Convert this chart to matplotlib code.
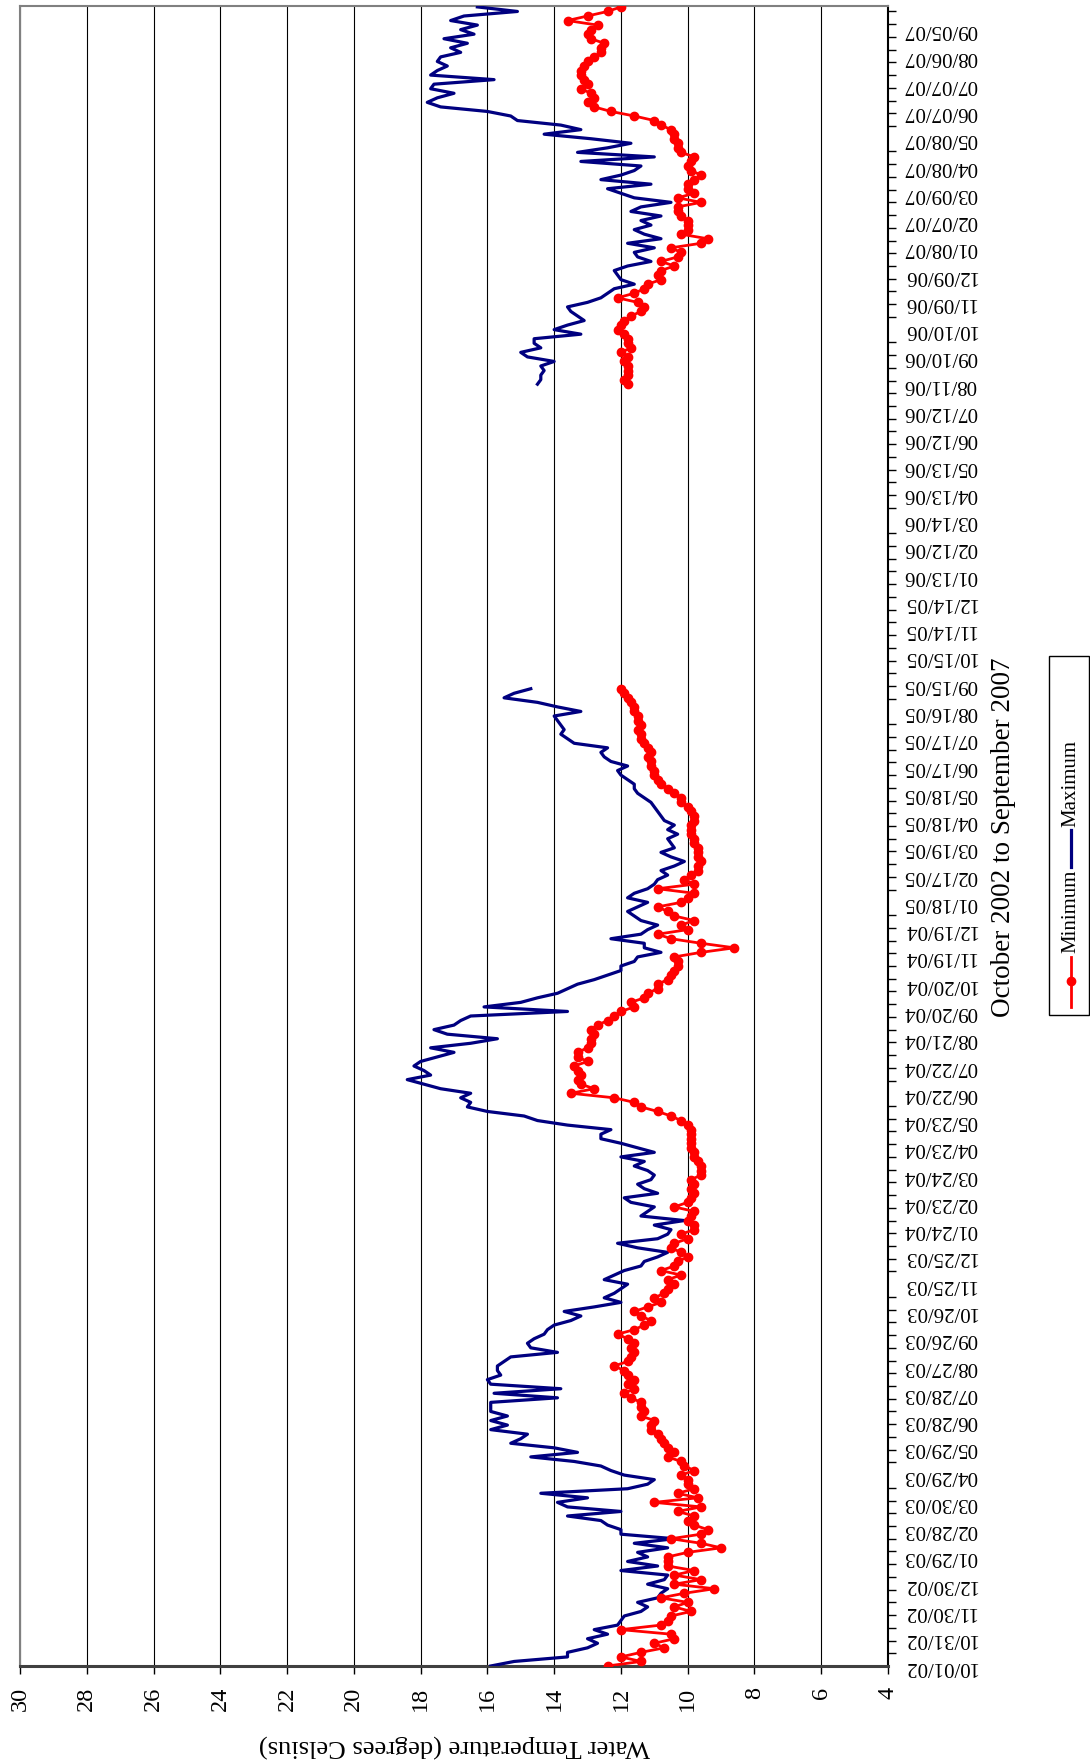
import numpy as np
import pandas as pd
import matplotlib
matplotlib.use("Agg")
import matplotlib.pyplot as plt
import matplotlib.dates as mdates
from matplotlib.lines import Line2D
from matplotlib.patches import Rectangle

plt.rcParams['font.family'] = ['Liberation Serif', 'DejaVu Serif']

# water temperature (deg C), one value every 5 days
start_1 = "2002-10-01"
max_1 = [
    15.9, 15.2, 13.6, 13.6, 13.0, 12.7, 13.0, 12.4, 12.8, 12.1,
    12.0, 11.9, 11.4, 11.2, 11.5, 10.9, 10.8, 10.6, 11.2, 10.7,
    10.6, 12.0, 10.9, 11.8, 11.2, 11.5, 10.6, 11.6, 10.4, 12.0,
    12.0, 12.4, 12.6, 13.6, 12.0, 13.6, 13.9, 13.0, 14.4, 11.8,
    11.2, 11.0, 11.9, 12.3, 12.6, 13.4, 14.7, 13.3, 14.0, 15.3,
    15.0, 14.8, 15.9, 15.4, 15.9, 15.4, 15.9, 15.9, 15.9, 13.9,
    15.8, 13.8, 15.9, 16.0, 15.6, 15.7, 15.7, 15.5, 15.3, 13.9,
    14.7, 14.8, 14.6, 14.3, 14.2, 14.0, 13.5, 13.2, 13.7, 12.8,
    12.0, 12.5, 12.2, 12.0, 11.8, 12.5, 12.2, 11.9, 11.4, 11.3,
    10.9, 10.6, 11.5, 12.1, 10.9, 10.6, 10.5, 11.0, 10.1, 11.4,
    11.2, 11.0, 11.7, 11.9, 10.9, 11.3, 11.5, 11.1, 11.0, 11.2,
    11.6, 11.3, 12.0, 11.0, 11.5, 12.0, 12.6, 12.6, 12.3, 13.6,
    14.5, 14.9, 16.0, 16.6, 16.5, 16.8, 16.5, 17.4, 17.9, 18.4,
    17.7, 17.9, 18.2, 18.0, 17.5, 17.0, 17.7, 16.5, 15.7, 17.2,
    17.6, 17.0, 16.8, 16.5, 13.6, 16.1, 15.0, 14.5, 13.9, 13.6,
    13.3, 12.8, 12.4, 12.0, 12.0, 11.6, 11.5, 10.8, 11.3, 11.3,
    12.3, 11.4, 11.2, 10.9, 11.4, 11.6, 11.8, 11.5, 11.2, 11.8,
    11.6, 11.2, 11.0, 10.9, 10.6, 10.8, 10.4, 10.1, 10.5, 10.8,
    10.4, 10.5, 10.6, 10.3, 10.6, 10.4, 10.7, 10.8, 10.9, 11.0,
    11.1, 11.3, 11.5, 11.6, 11.6, 11.8, 12.0, 12.1, 11.8, 12.3,
    12.5, 12.6, 12.4, 13.4, 13.6, 13.8, 13.7, 13.8, 13.9, 14.0,
    13.2, 13.9, 14.5, 15.5, 15.2, 14.7,
]
min_1 = [
    12.4, 11.4, 12.0, 11.4, 10.7, 11.0, 10.4, 10.5, 12.0, 10.8,
    10.6, 10.5, 9.9, 10.4, 10.0, 10.8, 10.1, 9.2, 10.4, 9.6,
    10.4, 9.8, 10.6, 10.6, 10.6, 10.0, 9.0, 9.6, 10.5, 9.6,
    9.4, 9.8, 10.0, 9.8, 10.3, 9.6, 11.0, 9.7, 10.3, 9.8,
    10.0, 10.0, 10.2, 9.8, 10.1, 10.2, 10.6, 10.4, 10.6, 10.7,
    10.8, 10.9, 11.1, 11.1, 11.0, 11.4, 11.3, 11.4, 11.4, 11.7,
    11.9, 11.6, 11.8, 11.6, 11.8, 11.9, 12.2, 11.8, 11.7, 11.6,
    11.7, 11.6, 11.8, 12.1, 11.6, 11.3, 11.1, 11.4, 11.6, 11.2,
    10.8, 11.0, 10.7, 10.6, 10.4, 10.6, 10.2, 10.8, 10.4, 10.3,
    10.0, 10.2, 10.5, 10.4, 10.0, 10.2, 9.8, 9.8, 10.0, 9.9,
    9.8, 10.4, 10.0, 9.9, 9.8, 9.9, 9.8, 9.9, 9.6, 9.6,
    9.6, 9.7, 9.8, 9.8, 9.9, 9.9, 9.9, 9.9, 9.9, 10.0,
    10.2, 10.5, 10.9, 11.4, 11.6, 12.2, 13.5, 12.8, 13.2, 13.3,
    13.2, 13.3, 13.4, 13.0, 13.3, 13.3, 13.0, 12.9, 12.9, 12.8,
    12.9, 12.7, 12.4, 12.2, 12.0, 11.6, 11.7, 11.3, 11.2, 10.9,
    10.9, 10.6, 10.5, 10.4, 10.3, 10.3, 10.4, 9.6, 8.6, 9.6,
    10.5, 10.9, 10.0, 10.2, 9.8, 10.4, 10.6, 10.9, 10.2, 10.0,
    9.8, 10.9, 9.8, 10.1, 9.9, 9.7, 9.7, 9.6, 9.7, 9.7,
    9.7, 9.8, 9.8, 9.9, 9.9, 9.9, 9.8, 9.8, 9.9, 10.0,
    10.2, 10.2, 10.4, 10.6, 10.8, 10.9, 11.0, 11.0, 11.1, 11.1,
    11.2, 11.1, 11.2, 11.3, 11.4, 11.4, 11.5, 11.4, 11.5, 11.5,
    11.6, 11.6, 11.7, 11.8, 11.9, 12.0,
]

start_2 = "2006-08-11"
max_2 = [
    14.5, 14.4, 14.4, 14.3, 14.4, 14.0, 14.8, 15.0, 14.4, 14.6,
    14.6, 13.2, 14.0, 13.6, 13.1, 13.3, 13.5, 13.6, 13.0, 12.6,
    12.4, 12.2, 11.6, 12.0, 12.1, 12.2, 11.8, 11.1, 11.5, 11.6,
    11.0, 11.8, 10.8, 11.3, 11.6, 11.1, 11.4, 10.8, 11.7, 11.4,
    10.5, 11.6, 12.0, 12.4, 11.1, 12.6, 12.0, 11.6, 11.4, 13.2,
    11.0, 13.3, 12.4, 11.7, 12.9, 14.3, 13.2, 13.8, 15.1, 15.3,
    16.0, 17.4, 17.8, 17.5, 17.0, 17.7, 17.6, 15.8, 17.7, 17.5,
    17.2, 17.5, 17.4, 16.8, 17.1, 16.6, 17.3, 16.4, 16.8, 16.3,
    17.1, 16.7, 15.1, 16.3,
]
min_2 = [
    11.8, 11.9, 11.8, 11.8, 11.8, 11.9, 11.8, 12.0, 11.7, 11.8,
    11.8, 11.9, 12.1, 12.0, 11.9, 11.7, 11.4, 11.3, 11.5, 12.1,
    11.6, 11.3, 11.2, 10.8, 10.9, 10.8, 10.4, 10.8, 10.3, 10.2,
    10.5, 9.6, 9.4, 10.2, 10.0, 10.0, 10.0, 10.2, 10.3, 10.3,
    9.6, 10.3, 9.8, 10.0, 10.0, 9.8, 9.6, 9.9, 10.0, 9.9,
    9.8, 10.2, 10.3, 10.3, 10.4, 10.4, 10.5, 10.8, 11.0, 11.6,
    12.3, 12.8, 13.0, 12.8, 12.9, 13.2, 13.0, 13.1, 13.2, 13.2,
    13.1, 13.0, 12.8, 12.6, 12.6, 12.5, 12.9, 13.0, 12.9, 12.7,
    13.6, 13.0, 12.4, 12.0,
]

temp_ticks = list(range(4, 31, 2))
axis_start = pd.Timestamp("2002-10-01")
n_days = 1826        # category axis, one slot per day
label_every = 30     # days between date labels
tick_every = 14      # days between tick marks

W, H = 1090, 1763
fig = plt.figure(figsize=(W / 100, H / 100), dpi=100)
ax = fig.add_axes([20 / W, 1 - 1666 / H, 868 / W, 1660 / H])

navy = "#000080"
red = "#ff0000"

# the chart is turned on its side: temperature runs along x, dates up y
for start, mx, mn in ((start_1, max_1, min_1), (start_2, max_2, min_2)):
    d = pd.date_range(start, periods=len(mx), freq="5D")
    ax.plot(mx, d, color=navy, lw=2.3, zorder=3)
    ax.plot(mn, d, color=red, lw=2.0, marker="o", ms=6, zorder=4)

ax.set_xlim(30, 4)
ax.set_xticks(temp_ticks)
ax.set_xticklabels([str(t) for t in temp_ticks], rotation=90, fontsize=17.5)
ax.tick_params(axis="x", direction="out", length=6, width=1, pad=9)
ax.xaxis.grid(True, color="black", lw=0.8)

y0 = mdates.date2num(axis_start)
ax.set_ylim(y0, y0 + n_days)
ax.yaxis.tick_right()
label_dates = pd.date_range(axis_start, "2007-09-05", freq=f"{label_every}D")
ax.set_yticks(mdates.date2num(label_dates))
ax.set_yticklabels([d.strftime("%m/%d/%y") for d in label_dates],
                   rotation=180, fontsize=15, va="center", ha="left")
ax.set_yticks(y0 + np.arange(0, n_days, tick_every), minor=True)
ax.tick_params(axis="y", which="major", length=0, pad=11)
ax.tick_params(axis="y", which="minor", direction="out", length=6, width=1)

ax.spines["left"].set_color("#808080")
ax.spines["left"].set_linewidth(1.5)
ax.spines["top"].set_color("#808080")
ax.spines["top"].set_linewidth(1.5)
ax.spines["bottom"].set_color("#404040")
ax.spines["bottom"].set_linewidth(2.2)
ax.spines["right"].set_color("black")
ax.spines["right"].set_linewidth(1.5)

fig.text(454 / W, 1 - 1746 / H, "Water Temperature (degrees Celsius)",
         rotation=180, ha="center", va="center", fontsize=19)
fig.text(1003 / W, 1 - 837 / H, "October 2002 to September 2007",
         rotation=90, ha="center", va="center", fontsize=19.5)

# legend, drawn by hand because it is rotated too
lx = 1071 / W
fig.add_artist(Rectangle((1049 / W, 1 - 1015 / H), 40 / W, 359 / H,
                         transform=fig.transFigure, fill=False,
                         edgecolor="black", lw=1))
fig.add_artist(Line2D([lx, lx], [1 - 957 / H, 1 - 1007 / H],
                      transform=fig.transFigure, color=red, lw=2.0))
fig.add_artist(Line2D([lx], [1 - 981 / H], transform=fig.transFigure,
                      color=red, marker="o", ms=6))
fig.add_artist(Line2D([lx, lx], [1 - 830 / H, 1 - 867 / H],
                      transform=fig.transFigure, color=navy, lw=2.3))
fig.text(lx, 1 - 911 / H, "Minimum", rotation=90, ha="center", va="center",
         fontsize=15)
fig.text(lx, 1 - 783 / H, "Maximum", rotation=90, ha="center", va="center",
         fontsize=15)

fig.savefig("out.png", dpi=100)
